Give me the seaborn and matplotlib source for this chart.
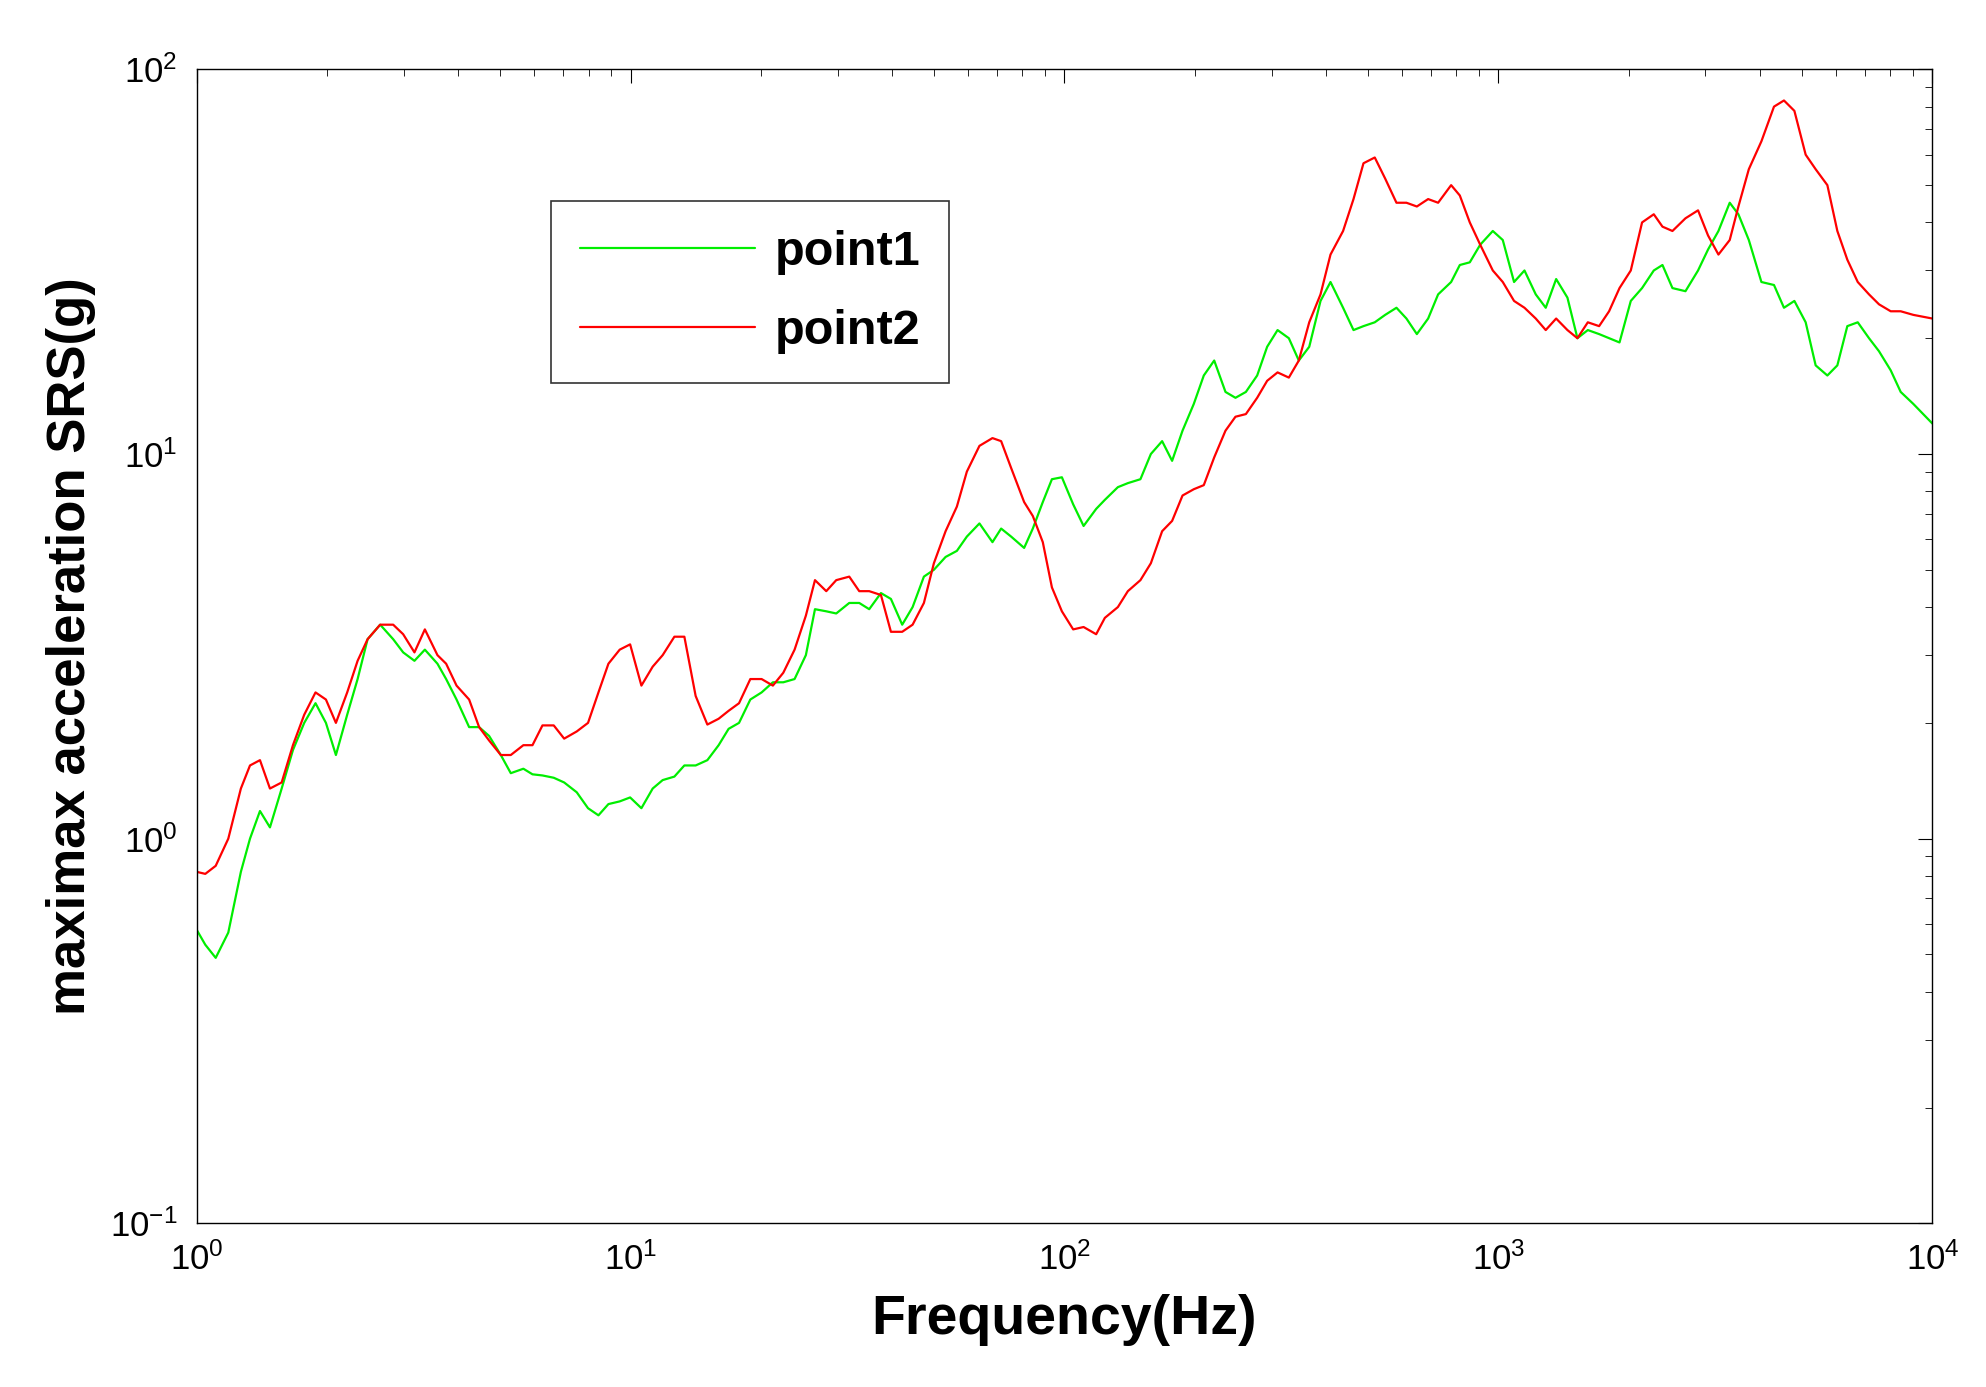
import matplotlib
matplotlib.use('Agg')
import matplotlib.pyplot as plt
import seaborn as sns
import pandas as pd
import numpy as np

# log10 of frequency (Hz), shared by both series
freq_exp = [0.00, 0.02, 0.044, 0.073, 0.102, 0.123, 0.146, 0.169, 0.196, 0.222, 0.248, 0.274, 0.298, 0.321,
            0.347, 0.371, 0.394, 0.423, 0.453, 0.476, 0.502, 0.526, 0.555, 0.575, 0.599, 0.628, 0.651, 0.674,
            0.701, 0.724, 0.753, 0.774, 0.797, 0.823, 0.847, 0.876, 0.902, 0.926, 0.949, 0.975, 0.999,
            1.025, 1.051, 1.074, 1.101, 1.124, 1.150, 1.177, 1.203, 1.226, 1.250, 1.276, 1.302, 1.328, 1.352,
            1.378, 1.404, 1.425, 1.451, 1.474, 1.504, 1.527, 1.550, 1.577, 1.600, 1.626, 1.650, 1.676, 1.699,
            1.726, 1.752, 1.775, 1.804, 1.834, 1.854, 1.877, 1.907, 1.927, 1.950, 1.971, 1.994,
            2.020, 2.044, 2.073, 2.093, 2.123, 2.146, 2.175, 2.199, 2.225, 2.248, 2.272, 2.298, 2.321, 2.345,
            2.371, 2.394, 2.418, 2.444, 2.467, 2.491, 2.517, 2.540, 2.564, 2.590, 2.613, 2.642, 2.666, 2.689,
            2.715, 2.739, 2.765, 2.788, 2.812, 2.838, 2.861, 2.891, 2.911, 2.934, 2.958, 2.987,
            3.010, 3.036, 3.060, 3.086, 3.109, 3.133, 3.159, 3.182, 3.206, 3.232, 3.255, 3.279, 3.305, 3.331,
            3.358, 3.378, 3.401, 3.431, 3.460, 3.483, 3.507, 3.533, 3.553, 3.577, 3.606, 3.635, 3.658, 3.682,
            3.708, 3.731, 3.758, 3.781, 3.804, 3.828, 3.854, 3.877, 3.904, 3.927, 3.956, 4.000]

point1 = [0.58, 0.53, 0.49, 0.57, 0.82, 1.0, 1.18, 1.07, 1.35, 1.7, 2.0, 2.25, 2.0, 1.65, 2.1, 2.6, 3.3, 3.6,
          3.3, 3.05, 2.9, 3.1, 2.85, 2.6, 2.3, 1.95, 1.95, 1.85, 1.65, 1.48, 1.52, 1.47, 1.46, 1.44, 1.40,
          1.32, 1.2, 1.15, 1.23, 1.25, 1.28, 1.2, 1.35, 1.42, 1.45, 1.55, 1.55, 1.6, 1.75, 1.93, 2.0, 2.3, 2.4,
          2.55, 2.55, 2.6, 3.0, 3.95, 3.9, 3.85, 4.1, 4.1, 3.95, 4.35, 4.2, 3.6, 4.0, 4.8, 5.0, 5.4, 5.6, 6.1,
          6.6, 5.9, 6.4, 6.1, 5.7, 6.4, 7.5, 8.6, 8.7, 7.4, 6.5, 7.2, 7.6, 8.2, 8.4, 8.6, 10, 10.8, 9.6, 11.5,
          13.5, 16, 17.5, 14.5, 14, 14.5, 16, 19, 21, 20, 17.5, 19, 25, 28, 24, 21, 21.5, 22, 23, 24, 22.5,
          20.5, 22.5, 26, 28, 31, 31.5, 35, 38, 36, 28, 30, 26, 24, 28.5, 25.5, 20, 21, 20.5, 20, 19.5, 25, 27,
          30, 31, 27, 26.5, 30, 34, 38, 45, 42, 36, 28, 27.5, 24, 25, 22, 17, 16, 17, 21.5, 22, 20, 18.5,
          16.5, 14.5, 13.5, 12]

point2 = [0.82, 0.81, 0.85, 1.0, 1.35, 1.55, 1.6, 1.35, 1.4, 1.75, 2.1, 2.4, 2.3, 2.0, 2.4, 2.9, 3.3, 3.6,
          3.6, 3.4, 3.05, 3.5, 3.0, 2.85, 2.5, 2.3, 1.95, 1.8, 1.65, 1.65, 1.75, 1.75, 1.97, 1.97, 1.82, 1.9,
          2.0, 2.4, 2.85, 3.1, 3.2, 2.5, 2.8, 3.0, 3.35, 3.35, 2.35, 1.98, 2.05, 2.15, 2.25, 2.6, 2.6, 2.5,
          2.7, 3.1, 3.8, 4.7, 4.4, 4.7, 4.8, 4.4, 4.4, 4.3, 3.45, 3.45, 3.6, 4.1, 5.2, 6.3, 7.3, 9.0, 10.5, 11,
          10.8, 9.2, 7.5, 6.9, 5.9, 4.5, 3.9, 3.5, 3.55, 3.4, 3.75, 4.0, 4.4, 4.7, 5.2, 6.3, 6.7, 7.8, 8.1, 8.3,
          9.8, 11.5, 12.5, 12.7, 14.0, 15.5, 16.3, 15.8, 17.5, 22, 26, 33, 38, 46, 57, 59, 52, 45, 45, 44, 46,
          45, 50, 47, 40, 35, 30, 28, 25, 24, 22.5, 21, 22.5, 21, 20, 22, 21.5, 23.5, 27, 30, 40, 42, 39, 38,
          41, 43, 37, 33, 36, 44, 55, 65, 80, 83, 78, 60, 55, 50, 38, 32, 28, 26, 24.5, 23.5, 23.5, 23, 22.5]

freq = 10 ** np.array(freq_exp)
df = pd.concat([
    pd.DataFrame({'f': freq, 'v': point1, 's': 'point1'}),
    pd.DataFrame({'f': freq, 'v': point2, 's': 'point2'}),
])

sns.set_style('white')
plt.rcParams['font.family'] = ['Liberation Sans', 'DejaVu Sans']
plt.rcParams['text.color'] = 'black'
plt.rcParams['axes.labelcolor'] = 'black'

fig = plt.figure(figsize=(19.86, 13.87), dpi=100)
ax = fig.add_axes([0.099, 0.118, 0.874, 0.832])
sns.lineplot(data=df, x='f', y='v', hue='s', palette={'point1': '#00ee00', 'point2': '#ff0000'},
             sort=False, linewidth=1.6, ax=ax)
ax.set_xscale('log')
ax.set_yscale('log')
ax.set_xlim(1, 1e4)
ax.set_ylim(0.1, 100)
for s in ax.spines.values():
    s.set_color('black')
    s.set_linewidth(1.0)
ax.tick_params(which='both', direction='in', top=True, right=True, colors='black', labelsize=25)
ax.tick_params(which='major', length=10, pad=14)
ax.tick_params(which='minor', length=5)
ax.set_xlabel('Frequency(Hz)', fontsize=40, fontweight='bold', labelpad=12)
ax.set_ylabel('maximax acceleration SRS(g)', fontsize=38, fontweight='bold', labelpad=10)
leg = ax.legend(loc='upper left', bbox_to_anchor=(0.19, 0.907), fontsize=35, handlelength=3.6,
                fancybox=False, edgecolor='black', borderpad=0.6, labelspacing=0.7, handletextpad=0.4)
for t in leg.get_texts():
    t.set_fontweight('bold')
leg.get_frame().set_linewidth(1.2)
fig.savefig('out.png', dpi=100)
